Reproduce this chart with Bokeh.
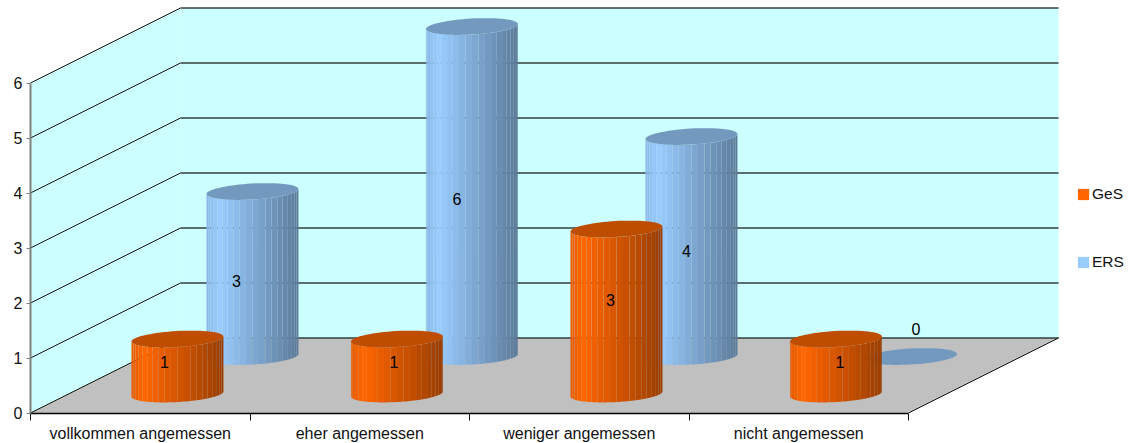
import numpy as np
from bokeh.core.properties import value as fixed
from bokeh.embed import file_html
from bokeh.models import FixedTicker, Legend, LegendItem, LinearAxis, Range1d
from bokeh.plotting import figure
from bokeh.resources import INLINE

categories = ["vollkommen angemessen", "eher angemessen", "weniger angemessen", "nicht angemessen"]
ges_values = [1, 1, 3, 1]
ers_values = [3, 6, 4, 0]
value_ticks = [0, 1, 2, 3, 4, 5, 6]

# Screen scale of the oblique projection
WIDTH, HEIGHT = 1133, 443
PX_PER_CATEGORY = 219.5
PX_PER_VALUE = 55.0
LEFT_PX, BASE_PX = 30.0, 412.5
DEPTH_DX = 150.0 / PX_PER_CATEGORY
DEPTH_DY = 75.0 / PX_PER_VALUE
N_CATS = len(categories)
TOP_VALUE = value_ticks[-1]

# Cylinder shape
RX = 46.0 / PX_PER_CATEGORY
RY = 8.0 / PX_PER_VALUE
TILT = 0.055 * PX_PER_CATEGORY / PX_PER_VALUE
FACETS = 22

p = figure(
    width=WIDTH, height=HEIGHT, output_backend="svg", toolbar_location=None,
    x_range=Range1d(-LEFT_PX / PX_PER_CATEGORY, (WIDTH - LEFT_PX) / PX_PER_CATEGORY),
    y_range=Range1d((BASE_PX - HEIGHT) / PX_PER_VALUE, BASE_PX / PX_PER_VALUE),
    x_axis_type=None, y_axis_type=None, min_border=0, outline_line_color=None,
)
p.grid.visible = False


def project(x, y, depth):
    """Oblique projection: depth 0 is the front edge, depth 1 the back wall."""
    return x + depth * DEPTH_DX, y + depth * DEPTH_DY


# Walls and floor
x0, x1 = 0, N_CATS
bx0, by0 = project(x0, 0, 1)
bx1, _ = project(x1, 0, 1)
p.patch([bx0, bx1, bx1, bx0], [0 + by0, by0, TOP_VALUE + by0, TOP_VALUE + by0],
        fill_color="#ccffff", line_color=None)
p.patch([x0, bx0, bx0, x0], [0, by0, TOP_VALUE + by0, TOP_VALUE],
        fill_color="#ccffff", line_color=None)
p.patch([x0, x1, bx1, bx0], [0, 0, by0, by0], fill_color="#c0c0c0", line_color=None)

# Grid lines run along the side wall, then across the back wall
for v in value_ticks:
    p.line([x0, bx0], [v, v + by0], line_color="#111111", line_width=1)
    p.line([bx0, bx1], [v + by0, v + by0], line_color="#333f3f", line_width=1.3)
p.line([x1, bx1], [0, by0], line_color="#111111", line_width=1)


def shade(rgb, t):
    """Side shading across a cylinder, t runs from its left edge to its right."""
    k = 0.9 + t / 0.14 * 0.1 if t < 0.14 else 1.0 - (t - 0.14) / 0.86 * 0.4
    return "#%02x%02x%02x" % tuple(int(round(c * k)) for c in rgb)


def ellipse_xy(cx, cy, a0=0.0, a1=2 * np.pi, n=72):
    th = np.linspace(a0, a1, n)
    dx = RX * np.cos(th)
    return cx + dx, cy + RY * np.sin(th) + TILT * dx


def cylinder(slot, height, depth, shift, rgb, top_color):
    cx, cy = project(slot + 0.5 + shift, 0, depth)
    top = cy + height
    if height > 0:
        edges = np.linspace(np.pi, 2 * np.pi, FACETS + 1)
        xs, ys, colors = [], [], []
        for a0, a1 in zip(edges[:-1], edges[1:]):
            bx, by = ellipse_xy(cx, cy, a0, a1, 4)
            tx, ty = ellipse_xy(cx, top, a1, a0, 4)
            xs.append(np.r_[bx, tx].tolist())
            ys.append(np.r_[by, ty].tolist())
            mid = (np.cos((a0 + a1) / 2) + 1) / 2
            colors.append(shade(rgb, mid))
        p.patches(xs, ys, fill_color=colors, line_color=None)
    ex, ey = ellipse_xy(cx, top)
    p.patch(ex.tolist(), ey.tolist(), fill_color=top_color, line_color=None)
    return cx, top


ERS_RGB, GES_RGB = (153, 204, 255), (255, 102, 0)
ERS_DEPTH, GES_DEPTH = 0.753, 0.253
BAR_SHIFT = -0.75 / PX_PER_CATEGORY

ers_tops = [cylinder(i, v, ERS_DEPTH, BAR_SHIFT, ERS_RGB, "#7399bf") for i, v in enumerate(ers_values)]
ges_tops = [cylinder(i, v, GES_DEPTH, BAR_SHIFT, GES_RGB, "#bf4d00") for i, v in enumerate(ges_values)]

# Value labels: pixel offsets from each cylinder's top centre
ers_label_dx, ers_label_dy = [-16, -15, -5, 5], [89, 172, 114, -28]
ges_label_dx, ges_label_dy = [-13, -3, -6, 4], [23, 23, 71, 23]
lx, ly, lt, ldx, ldy = [], [], [], [], []
for tops, vals, dxs, dys in ((ers_tops, ers_values, ers_label_dx, ers_label_dy),
                             (ges_tops, ges_values, ges_label_dx, ges_label_dy)):
    for (cx, top), v, dx, dy in zip(tops, vals, dxs, dys):
        lx.append(cx); ly.append(top); lt.append(str(v)); ldx.append(dx); ldy.append(dy)
p.text(lx, ly, text=lt, x_offset=ldx, y_offset=ldy, text_align="center", text_baseline="middle",
       text_font_size="16px", text_color="#000000", text_font=fixed("Liberation Sans"))

# Axes
y_axis = LinearAxis(fixed_location=0, bounds=(0, TOP_VALUE), ticker=FixedTicker(ticks=value_ticks),
                    axis_line_color="#808080", axis_line_width=2, major_tick_line_color="#808080",
                    major_tick_in=0, major_tick_out=4, minor_tick_line_color=None, major_label_standoff=4,
                    major_label_text_font="Liberation Sans", major_label_text_font_size="16px",
                    major_label_text_color="#111111")
p.add_layout(y_axis, "left")

# Category names sit on the major ticks (slot centres); the minor ticks mark the slot edges
label_ticks = [i + 0.5 for i in range(N_CATS)]
x_axis = LinearAxis(fixed_location=0, bounds=(0, N_CATS),
                    ticker=FixedTicker(ticks=label_ticks, minor_ticks=list(range(N_CATS + 1))),
                    axis_line_color="#000000", axis_line_width=1.5,
                    major_tick_line_color=None, major_tick_in=0, major_tick_out=0,
                    minor_tick_line_color="#111111", minor_tick_in=0, minor_tick_out=7,
                    major_label_standoff=5, major_label_text_font="Liberation Sans",
                    major_label_text_font_size="16px", major_label_text_color="#111111",
                    major_label_overrides=dict(zip(label_ticks, categories)))
p.add_layout(x_axis, "below")

# Legend, with swatches taken from renderers parked outside the visible range
ges_swatch = p.rect([-9], [-9], width=1, height=1, fill_color="#ff6600", line_color=None)
ers_swatch = p.rect([-9], [-9], width=1, height=1, fill_color="#99ccff", line_color=None)
legend = Legend(items=[LegendItem(label="GeS", renderers=[ges_swatch]), LegendItem(label="ERS", renderers=[ers_swatch])],
                location=(1076, HEIGHT - 271), glyph_width=14, glyph_height=14, spacing=50, label_height=17,
                label_standoff=2, padding=0, margin=0, border_line_color=None, background_fill_alpha=0,
                label_text_font="Liberation Sans", label_text_font_size="15.5px", label_text_color="#111111")
p.add_layout(legend, "center")

open("out.html", "w").write(file_html(p, INLINE))
